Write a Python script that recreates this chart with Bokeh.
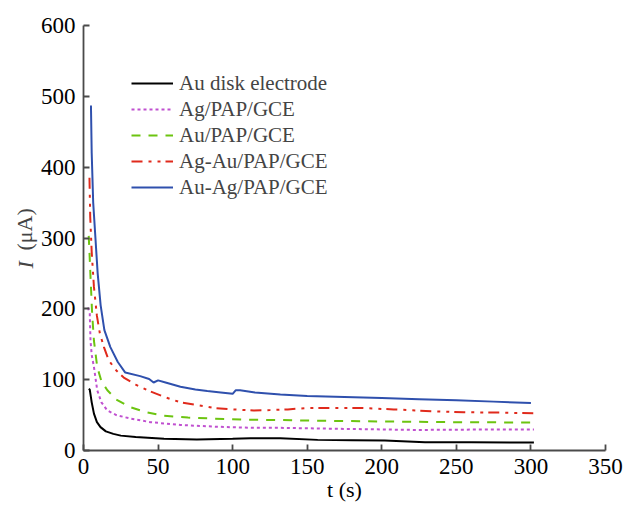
import numpy as np
from bokeh.plotting import figure
from bokeh.models import Range1d, SingleIntervalTicker, Legend, LegendItem, Label
from bokeh.embed import file_html
from bokeh.resources import INLINE

# --- data ---
names = ["Au disk electrode", "Ag/PAP/GCE", "Au/PAP/GCE", "Ag-Au/PAP/GCE", "Au-Ag/PAP/GCE"]

t_au_disk = [3.5, 4.2, 5.5, 7, 9, 11.4, 15, 20, 25, 35, 54, 76, 100, 112, 132, 157, 180, 202, 229, 260, 302]
i_au_disk = [87, 86, 68, 52, 40, 33, 27, 23.5, 21, 19, 16.5, 15.5, 16.5, 17.4, 17.4, 15, 14.5, 14, 11.8, 11.5, 11.3]

t_ag_pap = [3, 3.5, 4.2, 4.7, 5.5, 7, 9.2, 12, 16, 22, 31.6, 45, 65, 90, 114, 132, 175, 224, 260, 302]
i_ag_pap = [202, 198, 193, 155, 135, 118, 85, 68, 56.5, 50, 45, 40, 36, 33.5, 32, 32, 30.5, 29, 29.5, 29.5]

t_au_pap = [3.5, 4, 4.7, 5.8, 7, 9.2, 12, 16, 22, 31.6, 42, 54, 70, 87.6, 110, 132, 160, 200, 250, 302]
i_au_pap = [303, 280, 245, 193, 155, 118, 98, 85, 72, 61, 54, 49, 46.5, 45, 43.5, 43, 42, 41, 40, 39.5]

t_agau = [4, 4.5, 5.5, 7, 9, 11, 13.7, 17, 22, 27, 35, 43, 55, 65, 77, 88, 100, 114, 125, 137, 150, 164, 186, 208, 233, 255, 280, 302]
i_agau = [385, 330, 280, 231, 190, 165, 146, 127, 113, 103, 93, 85, 75, 68, 64, 60, 58, 56.5, 57, 58, 60, 60, 60, 58, 55.5, 54, 53.5, 52.5]

t_auag = [5, 5.5, 6.5, 8, 9.5, 11.5, 14, 18, 23, 28, 38, 44, 47, 50, 55, 65, 75, 83, 92, 100, 102, 105, 115, 132, 150, 175, 200, 225, 250, 275, 300]
i_auag = [487, 420, 350, 300, 250, 205, 170, 146, 125, 110, 105, 101, 96, 99, 96, 90, 86, 84, 82, 80, 85, 85, 82, 79, 77, 75.5, 74, 72.5, 71, 69, 67]

x_ticks_step = 50
y_ticks_step = 100

FONT = "Liberation Serif"

p = figure(width=632, height=505, output_backend="svg", toolbar_location=None,
           x_range=Range1d(0, 350), y_range=Range1d(0, 600),
           min_border_left=83, min_border_right=27, min_border_top=25, min_border_bottom=55)
p.outline_line_color = None
p.grid.visible = False
p.background_fill_color = "white"
p.border_fill_color = "white"

for ax in (p.xaxis[0], p.yaxis[0]):
    ax.axis_line_color = "#4a4a4a"
    ax.axis_line_width = 1.8
    ax.major_tick_line_color = "#4a4a4a"
    ax.major_tick_line_width = 1.8
    ax.major_tick_in = 6
    ax.major_tick_out = 0
    ax.minor_tick_line_color = None
    ax.major_label_text_font = FONT
    ax.major_label_text_font_size = "23px"
    ax.major_label_text_color = "black"
    ax.major_label_standoff = 4

p.xaxis.ticker = SingleIntervalTicker(interval=x_ticks_step)
p.yaxis.ticker = SingleIntervalTicker(interval=y_ticks_step)

p.xaxis.axis_label = "t (s)"
p.xaxis.axis_label_text_font = FONT
p.xaxis.axis_label_text_font_size = "22px"
p.xaxis.axis_label_text_font_style = "normal"
p.xaxis.axis_label_text_color = "black"
p.xaxis.axis_label_standoff = 0

styles = [
    (t_au_disk, i_au_disk, "#000000", "solid"),
    (t_ag_pap, i_ag_pap, "#c050d0", "3 3"),
    (t_au_pap, i_au_pap, "#6cc410", "9 8"),
    (t_agau, i_agau, "#e02a1c", "11 6 3 6 3 5"),
    (t_auag, i_auag, "#2f50ad", "solid"),
]
items = []
for (tx, iy, col, dash), nm in zip(styles, names):
    r = p.line(tx, iy, line_color=col, line_width=2, line_dash=dash)
    items.append(LegendItem(label=nm, renderers=[r]))

leg = Legend(items=items, location=(48, 250), glyph_width=42, glyph_height=26,
             label_height=26, spacing=0, padding=0, margin=0, label_standoff=6,
             label_text_font=FONT, label_text_font_size="21px",
             border_line_alpha=0, background_fill_alpha=0)
p.add_layout(leg, "center")

# y axis title: italic I followed by upright (μA), each in a side panel
p.add_layout(Label(x=13, y=182, x_units="screen", y_units="screen", text="I",
                   text_font=FONT, text_font_size="22px", text_font_style="italic",
                   angle=np.pi / 2, text_align="left", text_baseline="middle"), "left")
p.add_layout(Label(x=-581, y=200, x_units="screen", y_units="screen", text="(μA)",
                   text_font=FONT, text_font_size="22px",
                   angle=np.pi / 2, text_align="left", text_baseline="middle"), "right")

open("out.html", "w").write(file_html(p, INLINE))
